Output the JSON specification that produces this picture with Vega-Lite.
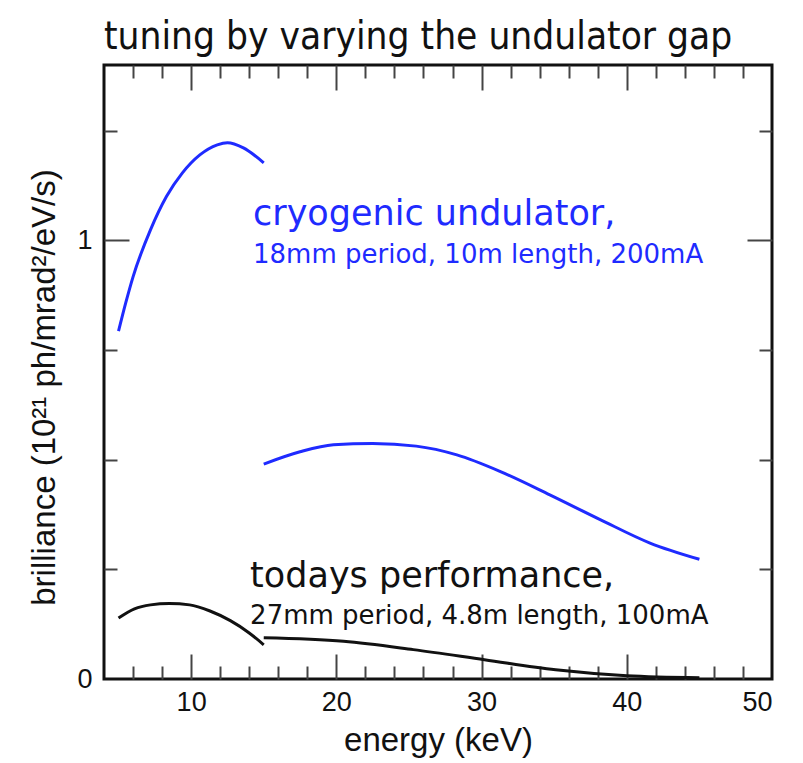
{
  "$schema": "https://vega.github.io/schema/vega-lite/v6.json",
  "width": 668,
  "height": 614,
  "autosize": {"type": "none"},
  "padding": {"left": 104, "top": 65, "right": 31, "bottom": 84},
  "title": {
    "text": "tuning by varying the undulator gap",
    "anchor": "start",
    "frame": "group",
    "font": "DejaVu Sans Condensed, DejaVu Sans",
    "fontSize": 38.5,
    "fontWeight": "normal",
    "color": "#111111",
    "offset": 7
  },
  "config": {
    "view": {"stroke": "#111111", "strokeWidth": 3},
    "axis": {
      "domain": false,
      "grid": false,
      "tickColor": "#444444",
      "tickWidth": 2,
      "labelFont": "Liberation Sans",
      "labelFontSize": 27,
      "labelColor": "#111111",
      "titleFont": "Liberation Sans",
      "titleFontSize": 33,
      "titleFontWeight": "normal",
      "titleColor": "#111111"
    }
  },
  "datasets": {
    "curves": [
      {"seg": "c1", "kind": "cryogenic", "energy": 5.0, "brilliance": 0.793},
      {"seg": "c1", "kind": "cryogenic", "energy": 5.5, "brilliance": 0.858},
      {"seg": "c1", "kind": "cryogenic", "energy": 6.0, "brilliance": 0.917},
      {"seg": "c1", "kind": "cryogenic", "energy": 7.2, "brilliance": 1.024},
      {"seg": "c1", "kind": "cryogenic", "energy": 8.3, "brilliance": 1.1},
      {"seg": "c1", "kind": "cryogenic", "energy": 9.4, "brilliance": 1.154},
      {"seg": "c1", "kind": "cryogenic", "energy": 10.6, "brilliance": 1.195},
      {"seg": "c1", "kind": "cryogenic", "energy": 11.8, "brilliance": 1.218},
      {"seg": "c1", "kind": "cryogenic", "energy": 12.5, "brilliance": 1.223},
      {"seg": "c1", "kind": "cryogenic", "energy": 13.6, "brilliance": 1.211},
      {"seg": "c1", "kind": "cryogenic", "energy": 15.0, "brilliance": 1.177},
      {"seg": "c2", "kind": "cryogenic", "energy": 15.0, "brilliance": 0.49},
      {"seg": "c2", "kind": "cryogenic", "energy": 17.5, "brilliance": 0.518},
      {"seg": "c2", "kind": "cryogenic", "energy": 19.8, "brilliance": 0.534},
      {"seg": "c2", "kind": "cryogenic", "energy": 22.5, "brilliance": 0.537},
      {"seg": "c2", "kind": "cryogenic", "energy": 25.5, "brilliance": 0.531},
      {"seg": "c2", "kind": "cryogenic", "energy": 28.3, "brilliance": 0.511},
      {"seg": "c2", "kind": "cryogenic", "energy": 31.3, "brilliance": 0.473},
      {"seg": "c2", "kind": "cryogenic", "energy": 34.7, "brilliance": 0.42},
      {"seg": "c2", "kind": "cryogenic", "energy": 38.2, "brilliance": 0.363},
      {"seg": "c2", "kind": "cryogenic", "energy": 41.6, "brilliance": 0.31},
      {"seg": "c2", "kind": "cryogenic", "energy": 45.0, "brilliance": 0.273},
      {"seg": "t1", "kind": "today", "energy": 5.0, "brilliance": 0.139},
      {"seg": "t1", "kind": "today", "energy": 6.1, "brilliance": 0.16},
      {"seg": "t1", "kind": "today", "energy": 7.2, "brilliance": 0.169},
      {"seg": "t1", "kind": "today", "energy": 8.5, "brilliance": 0.172},
      {"seg": "t1", "kind": "today", "energy": 9.9, "brilliance": 0.169},
      {"seg": "t1", "kind": "today", "energy": 11.3, "brilliance": 0.155},
      {"seg": "t1", "kind": "today", "energy": 12.7, "brilliance": 0.133},
      {"seg": "t1", "kind": "today", "energy": 14.0, "brilliance": 0.105},
      {"seg": "t1", "kind": "today", "energy": 15.0, "brilliance": 0.078},
      {"seg": "t2", "kind": "today", "energy": 15.0, "brilliance": 0.094},
      {"seg": "t2", "kind": "today", "energy": 20.5, "brilliance": 0.086},
      {"seg": "t2", "kind": "today", "energy": 25.3, "brilliance": 0.067},
      {"seg": "t2", "kind": "today", "energy": 30.2, "brilliance": 0.044},
      {"seg": "t2", "kind": "today", "energy": 35.1, "brilliance": 0.021},
      {"seg": "t2", "kind": "today", "energy": 40.0, "brilliance": 0.0075},
      {"seg": "t2", "kind": "today", "energy": 45.0, "brilliance": 0.003}
    ],
    "labels": [
      {"line": "head", "kind": "cryogenic", "energy": 14.26, "brilliance": 1.035, "label": "cryogenic undulator,"},
      {"line": "sub", "kind": "cryogenic", "energy": 14.26, "brilliance": 0.9485, "label": "18mm period, 10m length, 200mA"},
      {"line": "head", "kind": "today", "energy": 14.06, "brilliance": 0.2098, "label": "todays performance,"},
      {"line": "sub", "kind": "today", "energy": 14.06, "brilliance": 0.1254, "label": "27mm period, 4.8m length, 100mA"}
    ]
  },
  "layer": [
    {
      "data": {"name": "curves"},
      "mark": {"type": "line", "strokeWidth": 3, "interpolate": "monotone"},
      "encoding": {
        "x": {"field": "energy", "type": "quantitative",
              "scale": {"domain": [4, 50], "nice": false, "zero": false},
              "axis": {"orient": "bottom", "values": [10, 20, 30, 40, 50], "format": "d",
                       "ticks": false, "labelPadding": 10,
                       "title": "energy (keV)", "titlePadding": 9}},
        "y": {"field": "brilliance", "type": "quantitative",
              "scale": {"domain": [0, 1.4], "nice": false},
              "axis": {"orient": "left", "values": [0, 1], "format": "d",
                       "ticks": false, "labelPadding": 12,
                       "title": "brilliance (10²¹ ph/mrad²/eV/s)", "titlePadding": 15, "titleY": 322}},
        "color": {"field": "kind", "type": "nominal", "legend": null,
                  "scale": {"domain": ["cryogenic", "today"], "range": ["#1f2bff", "#111111"]}},
        "detail": {"field": "seg"}
      }
    },
    {
      "data": {"name": "curves"},
      "mark": {"type": "line", "opacity": 0},
      "encoding": {
        "x": {"field": "energy", "type": "quantitative",
              "axis": {"orient": "bottom", "values": [10, 20, 30, 40],
                       "tickSize": -25, "labels": false, "title": null}},
        "y": {"field": "brilliance", "type": "quantitative",
              "axis": {"orient": "left", "values": [1],
                       "tickSize": -25, "labels": false, "title": null}},
        "detail": {"field": "seg"}
      }
    },
    {
      "data": {"name": "curves"},
      "mark": {"type": "line", "opacity": 0},
      "encoding": {
        "x": {"field": "energy", "type": "quantitative",
              "axis": {"orient": "bottom", "values": [6, 8, 12, 14, 16, 18, 22, 24, 26, 28, 32, 34, 36, 38, 42, 44, 46, 48],
                       "tickSize": -13, "labels": false, "title": null}},
        "y": {"field": "brilliance", "type": "quantitative",
              "axis": {"orient": "left", "values": [0.25, 0.5, 0.75, 1.25],
                       "tickSize": -13, "labels": false, "title": null}},
        "detail": {"field": "seg"}
      }
    },
    {
      "data": {"name": "curves"},
      "mark": {"type": "line", "opacity": 0},
      "encoding": {
        "x": {"field": "energy", "type": "quantitative",
              "axis": {"orient": "top", "values": [10, 20, 30, 40],
                       "tickSize": -25, "labels": false, "title": null}},
        "y": {"field": "brilliance", "type": "quantitative",
              "axis": {"orient": "right", "values": [1],
                       "tickSize": -25, "labels": false, "title": null}},
        "detail": {"field": "seg"}
      }
    },
    {
      "data": {"name": "curves"},
      "mark": {"type": "line", "opacity": 0},
      "encoding": {
        "x": {"field": "energy", "type": "quantitative",
              "axis": {"orient": "top", "values": [6, 8, 12, 14, 16, 18, 22, 24, 26, 28, 32, 34, 36, 38, 42, 44, 46, 48],
                       "tickSize": -13, "labels": false, "title": null}},
        "y": {"field": "brilliance", "type": "quantitative",
              "axis": {"orient": "right", "values": [0.25, 0.5, 0.75, 1.25],
                       "tickSize": -13, "labels": false, "title": null}},
        "detail": {"field": "seg"}
      }
    },
    {
      "data": {"name": "labels"},
      "transform": [{"filter": "datum.line === 'head'"}],
      "mark": {"type": "text", "align": "left", "baseline": "alphabetic", "font": "DejaVu Sans", "fontSize": 35},
      "encoding": {
        "x": {"field": "energy", "type": "quantitative", "axis": null},
        "y": {"field": "brilliance", "type": "quantitative", "axis": null},
        "text": {"field": "label"},
        "color": {"field": "kind", "type": "nominal", "legend": null}
      }
    },
    {
      "data": {"name": "labels"},
      "transform": [{"filter": "datum.line === 'sub'"}],
      "mark": {"type": "text", "align": "left", "baseline": "alphabetic", "font": "DejaVu Sans", "fontSize": 26},
      "encoding": {
        "x": {"field": "energy", "type": "quantitative", "axis": null},
        "y": {"field": "brilliance", "type": "quantitative", "axis": null},
        "text": {"field": "label"},
        "color": {"field": "kind", "type": "nominal", "legend": null}
      }
    }
  ],
  "resolve": {"axis": {"x": "independent", "y": "independent"}}
}
